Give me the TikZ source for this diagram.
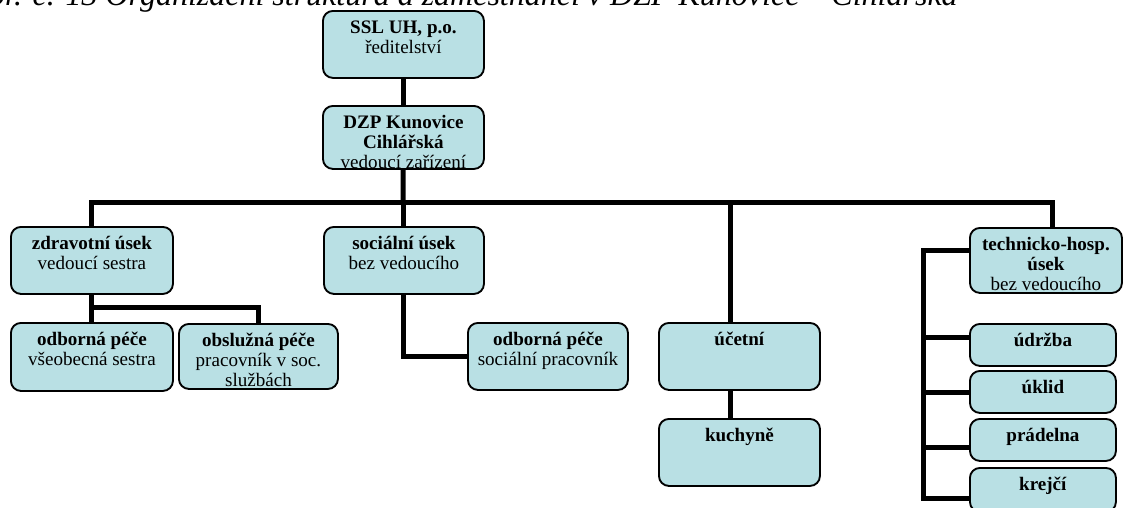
\documentclass[tikz,border=0pt]{standalone}
\usepackage{fontspec}
\setmainfont{Liberation Serif}
\usetikzlibrary{positioning,calc}
\definecolor{unitfill}{RGB}{185,224,228}

\tikzset{
  unit/.style={draw, line width=1.4pt, rounded corners=7.5pt, fill=unitfill,
    anchor=north west, inner sep=0pt, minimum width=120.75pt, minimum height=50.25pt,
    path picture={\node[anchor=north, align=center, inner sep=0pt, minimum width=0pt, minimum height=0pt,
      font=\fontsize{14.3}{14.8}\selectfont] at ([yshift=-5.25pt]path picture bounding box.north) {\rule{0pt}{11pt}#1};}},
  small/.style={minimum width=109.5pt, minimum height=31.5pt},
  link/.style={line width=3.75pt},
}

\begin{document}
\begin{tikzpicture}[x=0.75pt, y=-0.75pt]
	\useasboundingbox (0,0) rectangle (1123,507);
	\clip (0,0) rectangle (1123,507);
	% caption, cut by the top edge
	\node[anchor=base east, inner sep=0pt, font=\fontsize{24}{28}\selectfont\itshape] (caption) at (958,5)
		{Obr. č. 13 Organizační struktura a zaměstnanci v DZP Kunovice – Cihlářská};
	%
	\node[unit={\textbf{SSL UH, p.o.}\\ředitelství}] (ssl) at (322,10) {};
	\node[unit={\textbf{DZP Kunovice}\\\textbf{Cihlářská}\\vedoucí zařízení}, minimum height=47.25pt] (dzp) at (322,105) {};
	\node[unit={\textbf{zdravotní úsek}\\vedoucí sestra}, minimum width=121.5pt] (zdr) at (10,226) {};
	\node[unit={\textbf{sociální úsek}\\bez vedoucího}, minimum width=120pt] (soc) at (323,226) {};
	\node[unit={\textbf{technicko-hosp.}\\\textbf{úsek}\\bez vedoucího}, minimum width=114pt, minimum height=48.75pt] (tech) at (969,227) {};
	\node[unit={\textbf{odborná péče}\\všeobecná sestra}, minimum width=121.5pt, minimum height=51pt] (zpece) at (10,322) {};
	\node[unit={\textbf{obslužná péče}\\pracovník v soc.\\službách}, minimum width=119.25pt, minimum height=48.75pt] (obs) at (178,323) {};
	\node[unit={\textbf{odborná péče}\\sociální pracovník}, minimum width=120pt] (spece) at (467,322) {};
	\node[unit={\textbf{účetní}}] (uct) at (658,322) {};
	\node[unit={\textbf{kuchyně}}] (kuch) at (658,418) {};
	\node[unit={\textbf{údržba}}, small] (udr) at (969,323) {};
	\node[unit={\textbf{úklid}}, small] (ukl) at (969,370) {};
	\node[unit={\textbf{prádelna}}, small] (prad) at (969,418) {};
	\node[unit={\textbf{krejčí}}, small, minimum height=33pt] (krej) at (969,467) {};
	%
	\coordinate (bar) at (403,202);
	\coordinate (acc) at (730,202);
	\coordinate (tec) at (1052,202);
	\coordinate (zfork) at (91,307);
	\coordinate (spine) at (923,250);
	\coordinate (spine end) at (923,498);
	%
	\draw[link] (ssl) -- (dzp);
	\draw[link] (dzp) -- (bar);
	\draw[link] (zdr.north) |- (tec) -- (tec |- tech.north);
	\draw[link] (soc) -- (soc |- bar);
	\draw[link] (acc) -- (acc |- uct.north);
	\draw[link] (acc |- uct.south) -- (acc |- kuch.north);
	\draw[link] (zdr) -- (zpece);
	\draw[link] (zfork) -| (obs.north);
	\draw[link] (soc.south) |- (spece.west);
	\draw[link] (tech.west |- spine) -- (spine) -- (spine end) -- (spine end -| krej.west);
	\foreach \n/\y in {udr/337, ukl/392, prad/447}
		\draw[link] (923,\y) -- (\n.west |- 923,\y);
\end{tikzpicture}
\end{document}
